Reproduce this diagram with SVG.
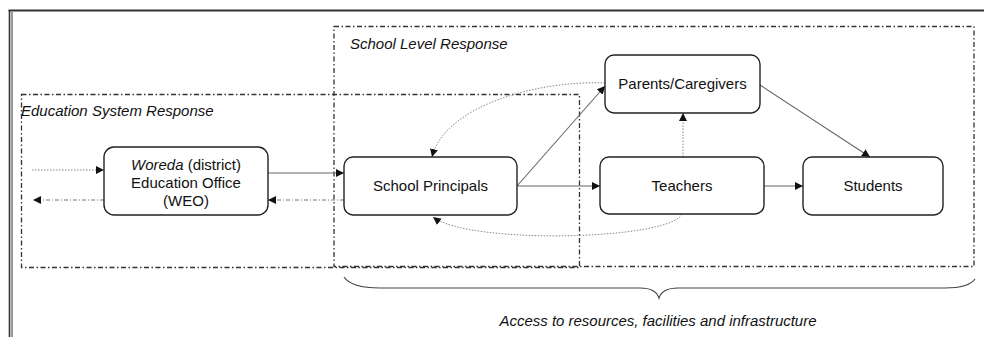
<svg xmlns="http://www.w3.org/2000/svg" width="984" height="337" viewBox="0 0 984 337">
<style>
  .node rect { fill: #ffffff; stroke: #222; stroke-width: 1.4; }
  .node text { font-family: "Liberation Sans", Arial, sans-serif; font-size: 15px; fill: #111; text-anchor: middle; }
  .grp { fill: none; stroke: #333; stroke-width: 1.3; stroke-dasharray: 5 2.5 1.5 2.5; }
  .lbl { font-family: "Liberation Sans", Arial, sans-serif; font-size: 15px; font-style: italic; fill: #111; }
  .solid { fill: none; stroke: #666; stroke-width: 1.1; }
  .dot { fill: none; stroke: #888; stroke-width: 1; stroke-dasharray: 1.5 1.5; }
  .dashdot { fill: none; stroke: #777; stroke-width: 1; stroke-dasharray: 4 2 1 2; }
  .border { stroke: #333; fill: none; }
</style>
<defs>
  <marker id="ah" viewBox="0 0 10 10" refX="10" refY="5" markerWidth="8" markerHeight="8" markerUnits="userSpaceOnUse" orient="auto">
    <path d="M0,0 L10,5 L0,10 Z" fill="#111"/>
  </marker>
</defs>
<rect width="984" height="337" fill="#ffffff"/>
<g id="page-border">
  <line class="border" x1="8.5" y1="10.5" x2="984" y2="10.5" stroke-width="2"/>
  <line class="border" x1="9.5" y1="10" x2="9.5" y2="337" stroke-width="1.6"/>
  <line class="border" x1="12" y1="12" x2="12" y2="337" stroke-width="1"/>
</g>
<g id="groups">
  <rect class="grp" x="334" y="26.5" width="640" height="240"/>
  <rect class="grp" x="21.5" y="94.5" width="558" height="173"/>
  <text class="lbl" x="350" y="49">School Level Response</text>
  <text class="lbl" x="21" y="116">Education System Response</text>
</g>
<g id="connectors">
  <line class="dot" x1="32" y1="170" x2="104" y2="170" marker-end="url(#ah)"/>
  <line class="dashdot" x1="104" y1="200" x2="33" y2="200" marker-end="url(#ah)"/>
  <line class="solid" x1="268" y1="173" x2="344" y2="173" marker-end="url(#ah)"/>
  <line class="dashdot" x1="344" y1="200" x2="268" y2="200" marker-end="url(#ah)"/>
  <line class="solid" x1="517" y1="186" x2="605" y2="86" marker-end="url(#ah)"/>
  <line class="solid" x1="517" y1="186" x2="600" y2="186" marker-end="url(#ah)"/>
  <line class="solid" x1="764" y1="186" x2="803" y2="186" marker-end="url(#ah)"/>
  <line class="dot" x1="683" y1="157" x2="683" y2="113" marker-end="url(#ah)"/>
  <line class="solid" x1="760" y1="85" x2="870" y2="157" marker-end="url(#ah)"/>
  <path class="dot" d="M605,83 C540,80 445,105 432,157" marker-end="url(#ah)"/>
  <path class="dot" d="M682,214 C670,240 470,245 433,217" marker-end="url(#ah)"/>
</g>
<g id="weo" class="node">
  <rect x="104" y="147" width="164" height="68" rx="10"/>
  <text x="186" y="170"><tspan font-style="italic">Woreda</tspan> (district)</text>
  <text x="186" y="188">Education Office</text>
  <text x="186" y="206">(WEO)</text>
</g>
<g id="principals" class="node">
  <rect x="344" y="157" width="173" height="58" rx="9"/>
  <text x="430.5" y="191">School Principals</text>
</g>
<g id="parents" class="node">
  <rect x="605" y="55" width="155" height="58" rx="9"/>
  <text x="682.5" y="89">Parents/Caregivers</text>
</g>
<g id="teachers" class="node">
  <rect x="600" y="157" width="164" height="57" rx="9"/>
  <text x="682" y="191">Teachers</text>
</g>
<g id="students" class="node">
  <rect x="803" y="157" width="140" height="58" rx="9"/>
  <text x="873" y="191">Students</text>
</g>
<g id="brace">
  <path d="M344,277 C350,286 365,288 380,288 L640,288 C652,288 657,292 659,298 C661,292 666,288 678,288 L945,288 C960,288 970,286 975,279" fill="none" stroke="#444" stroke-width="1.2"/>
  <text class="lbl" x="658" y="326" text-anchor="middle" textLength="317" lengthAdjust="spacingAndGlyphs">Access to resources, facilities and infrastructure</text>
</g>
</svg>
